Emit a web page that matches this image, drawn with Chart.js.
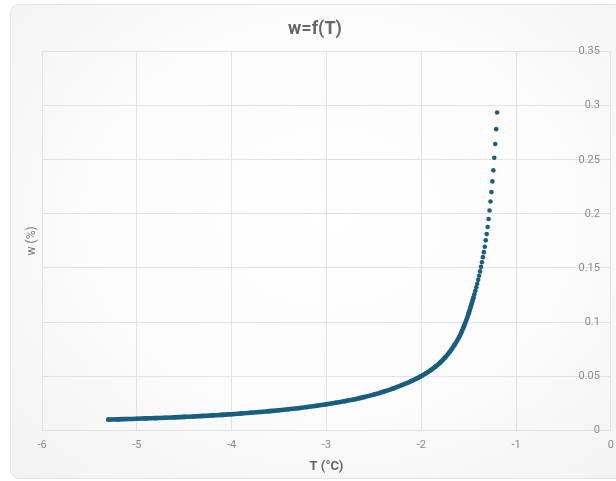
<!DOCTYPE html>
<html><head><meta charset="utf-8">
<script src="https://cdn.jsdelivr.net/npm/chart.js@4/dist/chart.umd.min.js"></script>
<style>
html,body{margin:0;padding:0;background:#fff;width:616px;height:481px;overflow:hidden;position:relative}
#card{position:absolute;left:10px;top:4px;width:640px;height:473px;border:1px solid #e4e4e4;border-radius:9px;
background:radial-gradient(ellipse at 50% 45%, #ffffff 0%, #fcfcfc 50%, #f2f2f2 100%);}
#c{position:absolute;left:0;top:0}
</style></head><body>
<div id="card"></div>
<canvas id="c" width="622" height="481"></canvas>
<script>
// Temperature T (°C), ascending
const tempC = [-5.3,-5.2,-5.1,-5.0,-4.9,-4.8,-4.7,-4.6,-4.5,-4.4,-4.3,-4.2,-4.1,-4.0,-3.9,-3.8,-3.7,-3.6,-3.5,-3.4,
  -3.3,-3.2,-3.1,-3.0,-2.9,-2.8,-2.7,-2.6,-2.5,-2.4,-2.3,-2.2,-2.1,-2.0,-1.95,-1.9,-1.85,-1.8,-1.75,-1.7,-1.65,-1.6,-1.55,-1.5,
  -1.45,-1.44,-1.43,-1.42,-1.41,-1.40,-1.39,-1.38,-1.37,-1.36,-1.35,-1.34,-1.33,-1.32,-1.31,-1.30,-1.29,-1.28,-1.27,-1.26,
  -1.25,-1.24,-1.23,-1.22,-1.21,-1.20];
// w (%)
const wPct = [0.0098,0.0100,0.0103,0.0106,0.0109,0.0112,0.0115,0.0119,0.0123,0.0127,0.0132,0.0137,0.0142,0.0148,0.0154,0.0161,0.0168,0.0176,0.0184,0.0193,
  0.0203,0.0214,0.0226,0.0240,0.0254,0.0269,0.0286,0.0306,0.0329,0.0355,0.0384,0.0418,0.0456,0.0500,0.0526,0.0555,0.0588,0.0626,0.0671,0.0724,0.0788,0.0862,0.0960,0.1080,
  0.1226,0.1256,0.1287,0.1320,0.1354,0.1390,0.1428,0.1468,0.1510,0.1553,0.1600,0.1646,0.1696,0.1755,0.1813,0.1878,0.1953,0.2031,0.2114,0.2201,
  0.2300,0.2402,0.2519,0.2646,0.2783,0.2937];
const xTickLabels = ['-6','-5','-4','-3','-2','-1','0'];
const yTickLabels = ['0','0.05','0.1','0.15','0.2','0.25','0.3','0.35'];

const color = '#175e7f';
const points = tempC.map((t, i) => ({x: t, y: wPct[i]}));
const grid = '#e2e2e2';
const tickFont = {family: 'Roboto', size: 11};

new Chart(document.getElementById('c'), {
  type: 'scatter',
  data: {datasets: [{
    data: points,
    showLine: true,
    borderWidth: 4.6,
    borderCapStyle: 'round',
    borderJoinStyle: 'round',
    cubicInterpolationMode: 'monotone',
    borderColor: color,
    segment: {borderColor: ctx => (ctx.p1.parsed.x < -1.445 ? color : 'transparent')},
    pointRadius: 2.3,
    pointBorderWidth: 0,
    pointBackgroundColor: color,
    pointHoverRadius: 2.3
  }]},
  options: {
    responsive: false,
    animation: false,
    layout: {padding: {top: 4, left: 8, right: 0, bottom: 2}},
    plugins: {
      legend: {display: false},
      tooltip: {enabled: false},
      title: {display: true, text: 'w=f(T)', color: '#666', font: {family: 'Roboto', size: 18, weight: 'bold'}, padding: {top: 15, bottom: 11}}
    },
    scales: {
      x: {
        type: 'linear', min: -6, max: 0,
        ticks: {stepSize: 1, color: '#8a8a8a', font: tickFont, padding: 8,
          callback: (v) => xTickLabels[Math.round(v) + 6]},
        grid: {color: grid, drawTicks: false},
        border: {color: grid},
        title: {display: true, text: 'T (°C)', color: '#666', font: {family: 'Roboto', size: 13, weight: 'bold'}, padding: {top: 0, bottom: 4}}
      },
      y: {
        type: 'linear', position: 'right', min: 0, max: 0.35,
        afterFit: (scale) => { scale.width = 0; },
        ticks: {stepSize: 0.05, mirror: true, padding: -11, color: '#8a8a8a', font: tickFont,
          callback: (v) => yTickLabels[Math.round(v / 0.05)]},
        grid: {color: grid, drawTicks: false},
        border: {color: grid}
      },
      yTitle: {
        type: 'linear', position: 'left', axis: 'y', min: 0, max: 1,
        ticks: {display: false},
        grid: {display: false, drawTicks: false},
        border: {display: false},
        title: {display: true, text: 'w (%)', color: '#777', font: {family: 'Roboto', size: 12}, padding: {top: 16.8, bottom: 2.8}}
      }
    }
  }
});
</script>
</body></html>
